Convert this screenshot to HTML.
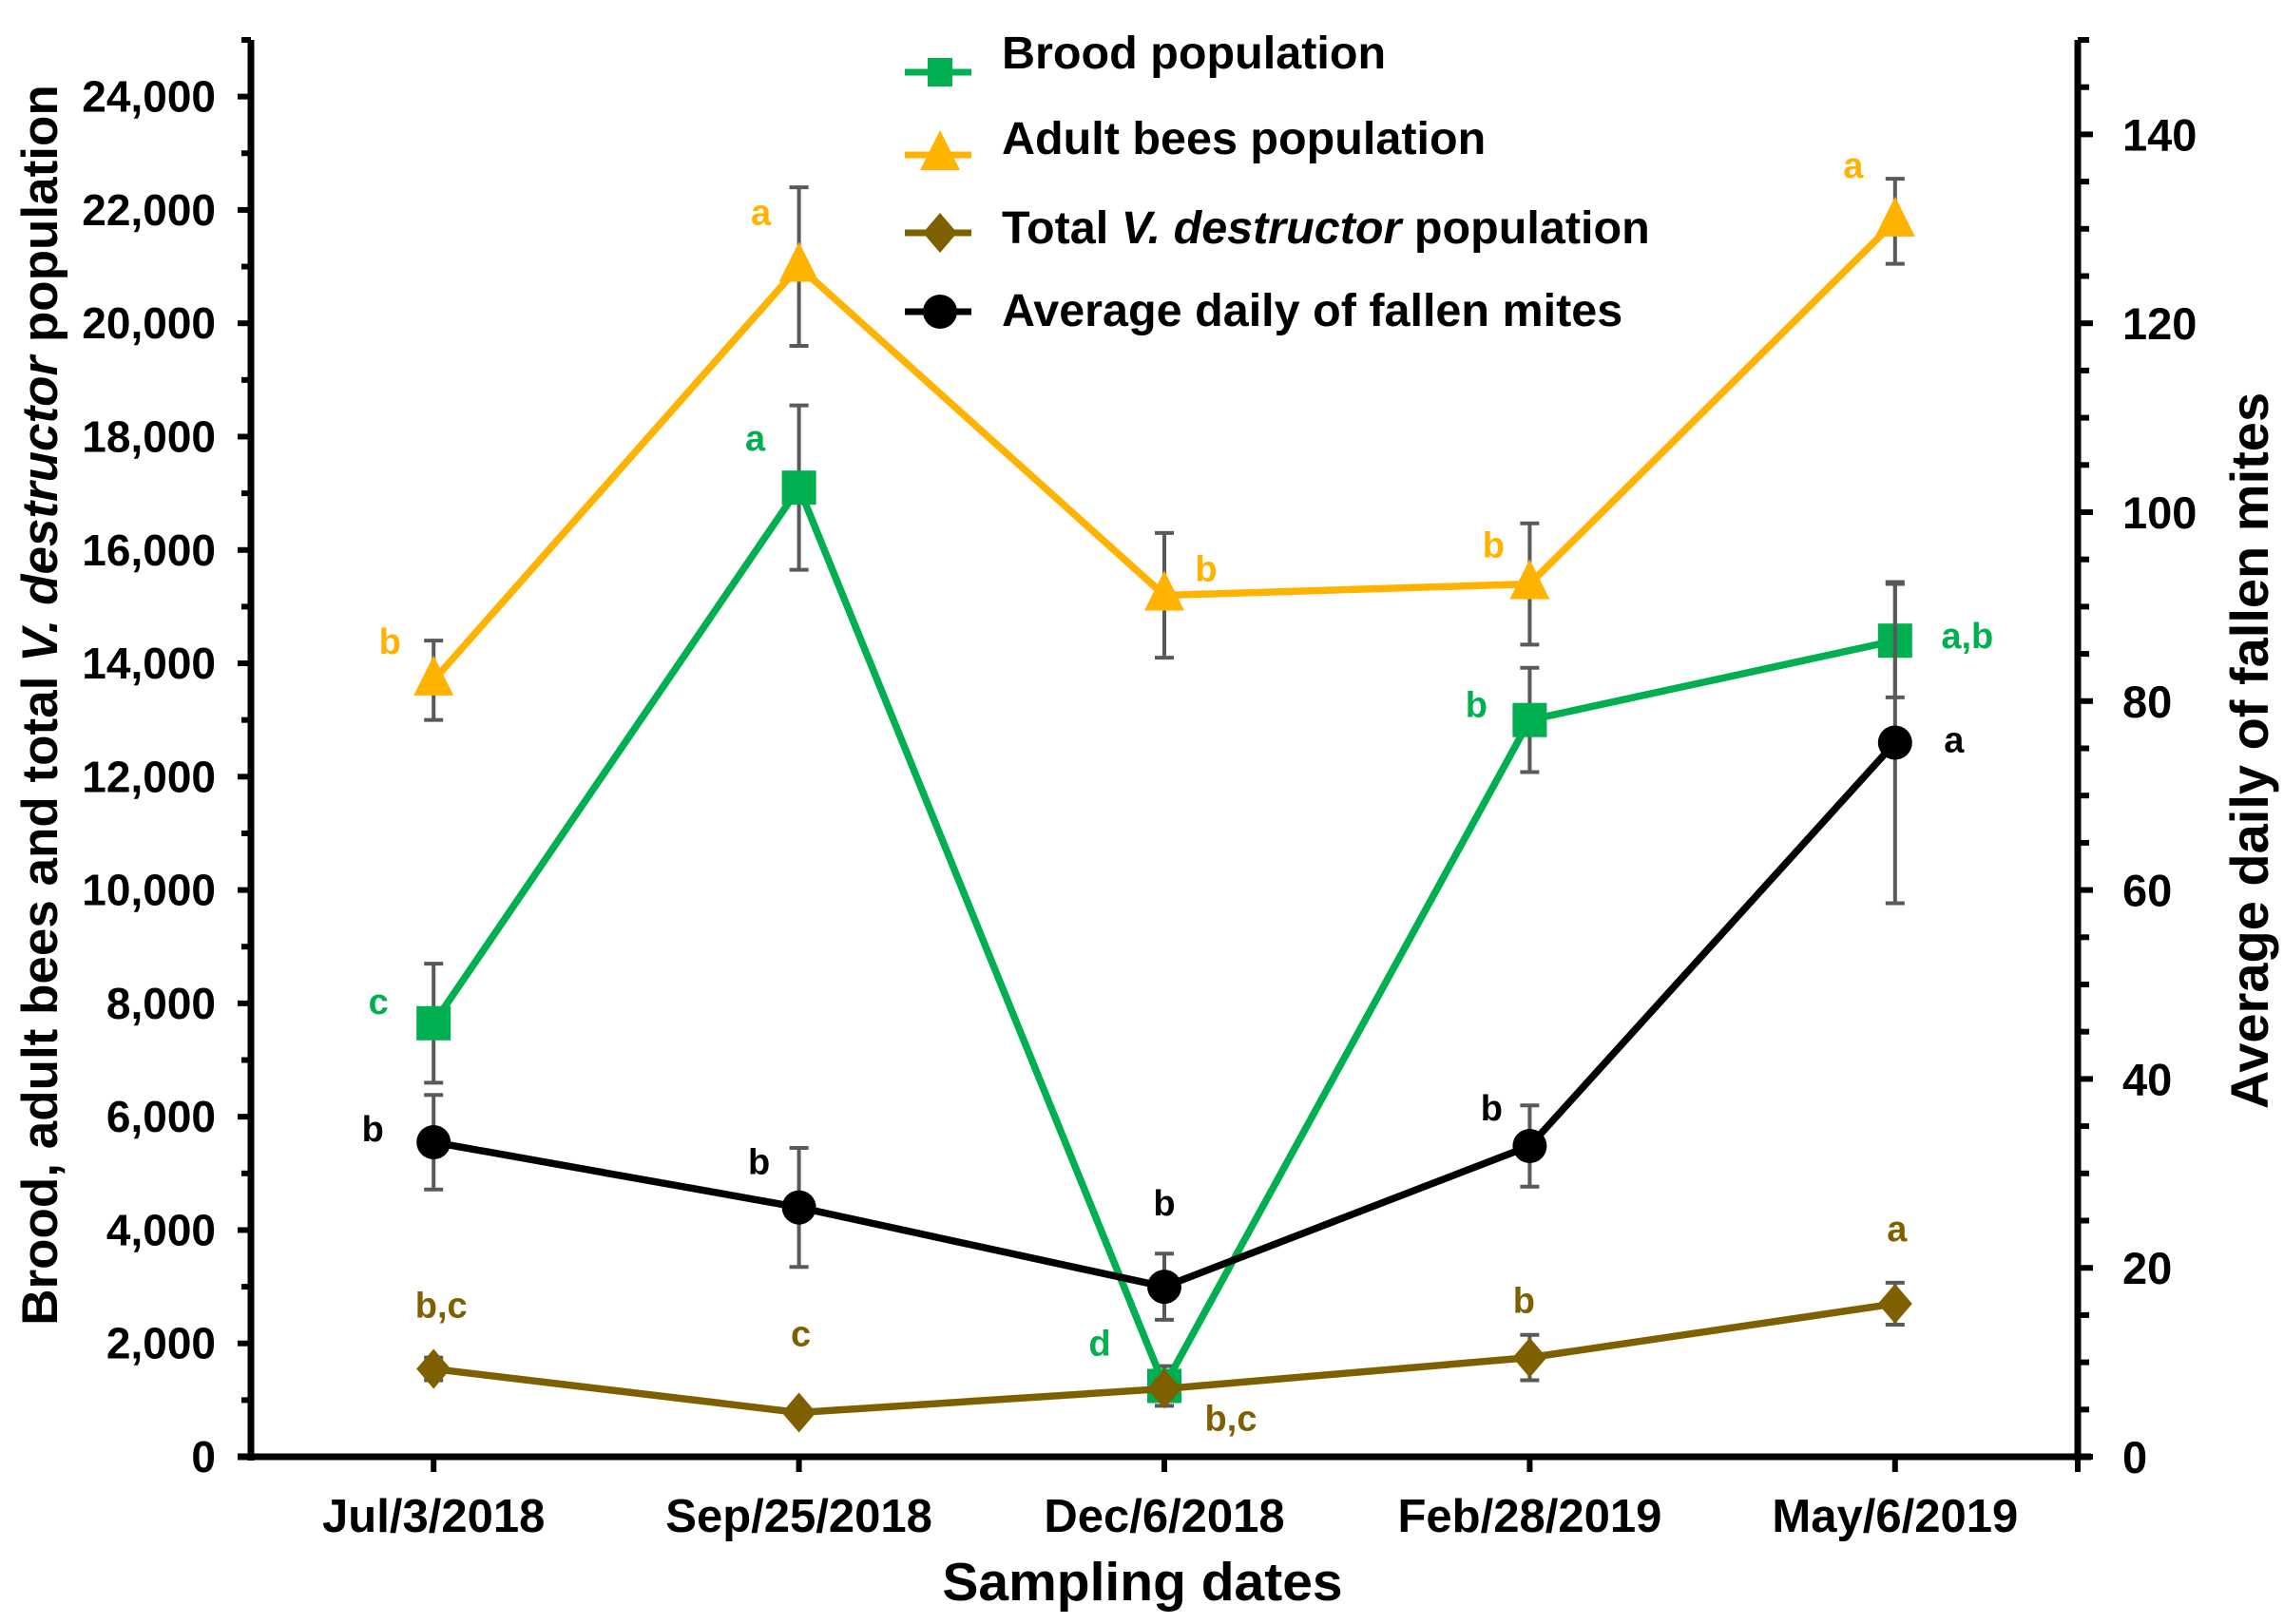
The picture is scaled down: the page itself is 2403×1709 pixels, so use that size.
<!DOCTYPE html>
<html><head><meta charset="utf-8">
<style>
html,body{margin:0;padding:0;background:#fff;}
svg{display:block;}
text{font-family:"Liberation Sans",Arial,sans-serif;font-weight:bold;}
</style></head>
<body>
<svg id="chart" width="2403" height="1709" viewBox="0 0 2403 1709" xmlns="http://www.w3.org/2000/svg">
<g id="axes"></g>
<g id="series"></g>
<g id="legend"></g>
</svg>
<script>
const categories = ["Jul/3/2018","Sep/25/2018","Dec/6/2018","Feb/28/2019","May/6/2019"];
const broodValues = [7650, 17100, 1250, 13000, 14400];
const broodErrors = [1050, 1450, 350, 920, 1000];
const broodLetters = ["c","a","d","b","a,b"];
const adultValues = [13700, 21000, 15200, 15400, 21800];
const adultErrors = [700, 1400, 1100, 1070, 750];
const adultLetters = ["b","a","b","b","a"];
const varroaValues = [1550, 780, 1200, 1750, 2700];
const varroaErrors = [200, 100, 150, 400, 370];
const varroaLetters = ["b,c","c","b,c","b","a"];
const mitesValues = [33.3, 26.4, 18.0, 32.9, 75.6];
const mitesErrors = [5.0, 6.3, 3.5, 4.3, 17.0];
const mitesLetters = ["b","b","b","b","a"];
const leftTicks = [0,2000,4000,6000,8000,10000,12000,14000,16000,18000,20000,22000,24000];
const rightTicks = [0,20,40,60,80,100,120,140];

const NS="http://www.w3.org/2000/svg";
const X0=264, X1=2186, Y0=1533, YTOP=42;
const LMAX=25000, RMAX=150;
const band=(X1-X0)/categories.length;
function xs(i){return X0+band*(i+0.5);}
function yl(v){return Y0-(v/LMAX)*(Y0-YTOP);}
function yr(v){return Y0-(v/RMAX)*(Y0-YTOP);}
function mk(tag,attrs,parent){const e=document.createElementNS(NS,tag);for(const k in attrs)e.setAttribute(k,attrs[k]);parent.appendChild(e);return e;}
function fmt(v){return v.toLocaleString("en-US");}

const axes=document.getElementById("axes");
const series=document.getElementById("series");
const legend=document.getElementById("legend");

let l=mk("line",{x1:X0,y1:YTOP,x2:X0,y2:Y0+4,stroke:"#000","stroke-width":7},axes);


l=mk("line",{x1:X1,y1:YTOP,x2:X1,y2:Y0+4,stroke:"#000","stroke-width":7},axes);


l=mk("line",{x1:X0-14,y1:Y0,x2:X1+14,y2:Y0,stroke:"#000","stroke-width":7},axes);



for(let v=0;v<=LMAX;v+=1000){
  const major=v%2000===0;
  const t=mk("line",{x1:X0-(major?14:10),y1:yl(v),x2:X0,y2:yl(v),stroke:"#000","stroke-width":6},axes);
  
  
}
leftTicks.forEach(v=>{
  const t=mk("text",{x:227,y:yl(v)+16,"text-anchor":"end","font-size":46},axes);
  t.textContent=fmt(v);
  
  
});
for(let v=0;v<=RMAX;v+=5){
  const major=v%20===0;
  const t=mk("line",{x1:X1,y1:yr(v),x2:X1+(major?16:12),y2:yr(v),stroke:"#000","stroke-width":6},axes);
  
  
}
rightTicks.forEach(v=>{
  const t=mk("text",{x:2233,y:yr(v)+17,"text-anchor":"start","font-size":47},axes);
  t.textContent=v;
  
  
});
categories.forEach((c,i)=>{
  const t=mk("line",{x1:xs(i),y1:Y0,x2:xs(i),y2:Y0+16,stroke:"#000","stroke-width":6},axes);
  
  
  const lb=mk("text",{x:xs(i),y:1612,"text-anchor":"middle","font-size":49},axes);
  lb.textContent=c;
  
  
});
l=mk("line",{x1:X1,y1:Y0,x2:X1,y2:Y0+16,stroke:"#000","stroke-width":6},axes);



let tt=mk("text",{x:1202,y:1684,"text-anchor":"middle","font-size":57},axes);
tt.textContent="Sampling dates";


tt=mk("text",{x:0,y:0,"text-anchor":"middle","font-size":53,transform:"translate(60,742) rotate(-90)"},axes);
tt.innerHTML='Brood, adult bees and total <tspan font-style="italic">V. destructor</tspan> population';


tt=mk("text",{x:0,y:0,"text-anchor":"middle","font-size":56,transform:"translate(2386,790) rotate(-90)"},axes);
tt.textContent="Average daily of fallen mites";



function marker(shape,cx,cy,color,parent){
  let e;
  if(shape==="square") e=mk("rect",{x:cx-18,y:cy-18,width:36,height:36,fill:color},parent);
  else if(shape==="triangle") e=mk("polygon",{points:`${cx},${cy-26} ${cx+21},${cy+16} ${cx-21},${cy+16}`,fill:color},parent);
  else if(shape==="diamond") e=mk("polygon",{points:`${cx},${cy-21} ${cx+18},${cy} ${cx},${cy+21} ${cx-18},${cy}`,fill:color},parent);
  else e=mk("circle",{cx:cx,cy:cy,r:18,fill:color},parent);
  return e;
}

function drawSeries(name,vals,errs,letters,color,shape,yf,letterOffsets){
  const g=mk("g",{},series);
  
  
  vals.forEach((v,i)=>{
    const x=xs(i),yt=yf(v+errs[i]),yb=yf(v-errs[i]);
    const e=mk("path",{d:`M${x},${yt}V${yb}M${x-10},${yt}H${x+10}M${x-10},${yb}H${x+10}`,stroke:"#595959","stroke-width":4,fill:"none"},g);
    
    
  });
  const pts=vals.map((v,i)=>xs(i)+","+yf(v)).join(" ");
  const pl=mk("polyline",{points:pts,fill:"none",stroke:color,"stroke-width":7.5,"stroke-linejoin":"round"},g);
  
  
  vals.forEach((v,i)=>{
    const m=marker(shape,xs(i),yf(v),color,g);
    
    
    const t=mk("text",{x:xs(i)+letterOffsets[i][0],y:yf(v)+letterOffsets[i][1],"text-anchor":"middle","font-size":38,fill:color},g);
    t.textContent=letters[i];
    
    
  });
}
drawSeries("adult",adultValues,adultErrors,adultLetters,"#FFB300","triangle",yl,[[-46,-28],[-40,-44],[44,-15],[-38,-28],[-44,-46]]);
drawSeries("brood",broodValues,broodErrors,broodLetters,"#00B050","square",yl,[[-58,-10],[-46,-39],[-68,-32],[-56,-3],[76,8]]);
drawSeries("varroa",varroaValues,varroaErrors,varroaLetters,"#7F6000","diamond",yl,[[8,-54],[2,-70],[70,44],[-6,-47],[2,-66]]);
drawSeries("mites",mitesValues,mitesErrors,mitesLetters,"#000000","circle",yr,[[-64,-1],[-42,-35],[0,-75],[-40,-27],[62,10]]);

const legItems=[["Brood population","#00B050","square",76,72],["Adult bees population","#FFB300","triangle",163,162],["Total <tspan font-style=\"italic\">V. destructor</tspan> population","#7F6000","diamond",245,256],["Average daily of fallen mites","#000000","circle",328,343]];
legItems.forEach(it=>{
  const g=mk("g",{},legend);
  
  
  mk("line",{x1:952,y1:it[3],x2:1022,y2:it[3],stroke:it[1],"stroke-width":7},g);
  const m=marker(it[2],989,it[3],it[1],g);
  if(it[2]==="square"){m.setAttribute("x",976);m.setAttribute("y",it[3]-15);m.setAttribute("width",26);m.setAttribute("height",30);}
  const t=mk("text",{x:1054,y:it[4],"font-size":48.5},g);
  t.innerHTML=it[0];
});
</script>
</body></html>
